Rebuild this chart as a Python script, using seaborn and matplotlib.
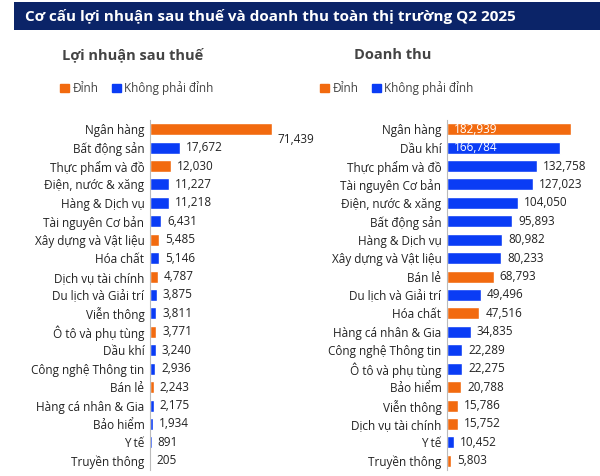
import matplotlib
matplotlib.use("Agg")
import matplotlib.pyplot as plt
import seaborn as sns
from matplotlib.patches import Patch, Rectangle

sns.set_style("white")
plt.rcParams['font.family'] = ['Open Sans', 'DejaVu Sans']

ORANGE = "#F26A0F"
BLUE = "#0A3CF5"

left_cats = ["Ngân hàng", "Bất động sản", "Thực phẩm và đồ", "Điện, nước & xăng", "Hàng & Dịch vụ",
             "Tài nguyên Cơ bản", "Xây dựng và Vật liệu", "Hóa chất", "Dịch vụ tài chính",
             "Du lịch và Giải trí", "Viễn thông", "Ô tô và phụ tùng", "Dầu khí",
             "Công nghệ Thông tin", "Bán lẻ", "Hàng cá nhân & Gia", "Bảo hiểm", "Y tế", "Truyền thông"]
left_vals = [71439, 17672, 12030, 11227, 11218, 6431, 5485, 5146, 4787, 3875, 3811, 3771, 3240,
             2936, 2243, 2175, 1934, 891, 205]
left_peak = [1, 0, 1, 0, 0, 0, 1, 0, 1, 0, 0, 1, 0, 0, 1, 0, 0, 0, 0]

right_cats = ["Ngân hàng", "Dầu khí", "Thực phẩm và đồ", "Tài nguyên Cơ bản", "Điện, nước & xăng",
              "Bất động sản", "Hàng & Dịch vụ", "Xây dựng và Vật liệu", "Bán lẻ", "Du lịch và Giải trí",
              "Hóa chất", "Hàng cá nhân & Gia", "Công nghệ Thông tin", "Ô tô và phụ tùng", "Bảo hiểm",
              "Viễn thông", "Dịch vụ tài chính", "Y tế", "Truyền thông"]
right_vals = [182939, 166784, 132758, 127023, 104050, 95893, 80982, 80233, 68793, 49496, 47516,
              34835, 22289, 22275, 20788, 15786, 15752, 10452, 5803]
right_peak = [1, 0, 0, 0, 0, 0, 0, 0, 1, 0, 1, 0, 0, 0, 1, 1, 1, 0, 1]

fig = plt.figure(figsize=(6, 4.76), dpi=100)
fig.patches.append(Rectangle((14/600, 1-30/476), 1, 28/476, transform=fig.transFigure,
                             facecolor="#0B2468", edgecolor="none"))
fig.text(25/600, 1-16/476, "Cơ cấu lợi nhuận sau thuế và doanh thu toàn thị trường Q2 2025",
         color="white", fontsize=11, fontweight="bold", va="center")

def panel(rect, cats, vals, peak, xmax, title, tcx, inside):
    ax = fig.add_axes(rect)
    kinds = ["Đỉnh" if p else "Không phải đỉnh" for p in peak]
    sns.barplot(x=vals, y=cats, hue=kinds, palette={"Đỉnh": ORANGE, "Không phải đỉnh": BLUE},
                dodge=False, legend=False, width=0.65, ax=ax, saturation=1)
    ax.set_xlim(0, xmax)
    ax.set_xticks([])
    ax.set_xlabel(""); ax.set_ylabel("")
    for s in ["top", "right", "bottom"]:
        ax.spines[s].set_visible(False)
    ax.spines["left"].set_color("#BBBBBB")
    ax.spines["left"].set_linewidth(0.8)
    ax.tick_params(axis="y", length=0, labelsize=8.5, pad=4, colors="#222222")
    for i, v in enumerate(vals):
        txt = f"{v:,}"
        if i in inside:
            ax.text(xmax*0.045, i, txt, va="center", ha="left", fontsize=8.5, color="white")
        elif v > xmax*0.7:
            ax.text(v + xmax*0.04, i + 0.55, txt, va="center", ha="left", fontsize=8.5, color="#222222")
        else:
            ax.text(v + xmax*0.04, i, txt, va="center", ha="left", fontsize=8.5, color="#222222")
    fig.text(tcx/600, 1-55/476, title, ha="center", va="center", fontsize=10.5,
             fontweight="bold", color="#444444")
    handles = [Patch(color=ORANGE, label="Đỉnh"), Patch(color=BLUE, label="Không phải đỉnh")]
    fig.legend(handles=handles, loc="center", bbox_to_anchor=((tcx+4)/600, 1-88/476), ncol=2,
               frameon=False, fontsize=8.5, handlelength=0.7, handleheight=0.7,
               handletextpad=0.3, columnspacing=1.2, labelcolor="#444444")
    return ax

panel([150/600, 1-470/476, 150/600, 350/476], left_cats, left_vals, left_peak, 88000,
      "Lợi nhuận sau thuế", 133, [])
panel([447/600, 1-470/476, 150/600, 350/476], right_cats, right_vals, right_peak, 221000,
      "Doanh thu", 393, [0, 1])

fig.savefig("out.png", dpi=100)
